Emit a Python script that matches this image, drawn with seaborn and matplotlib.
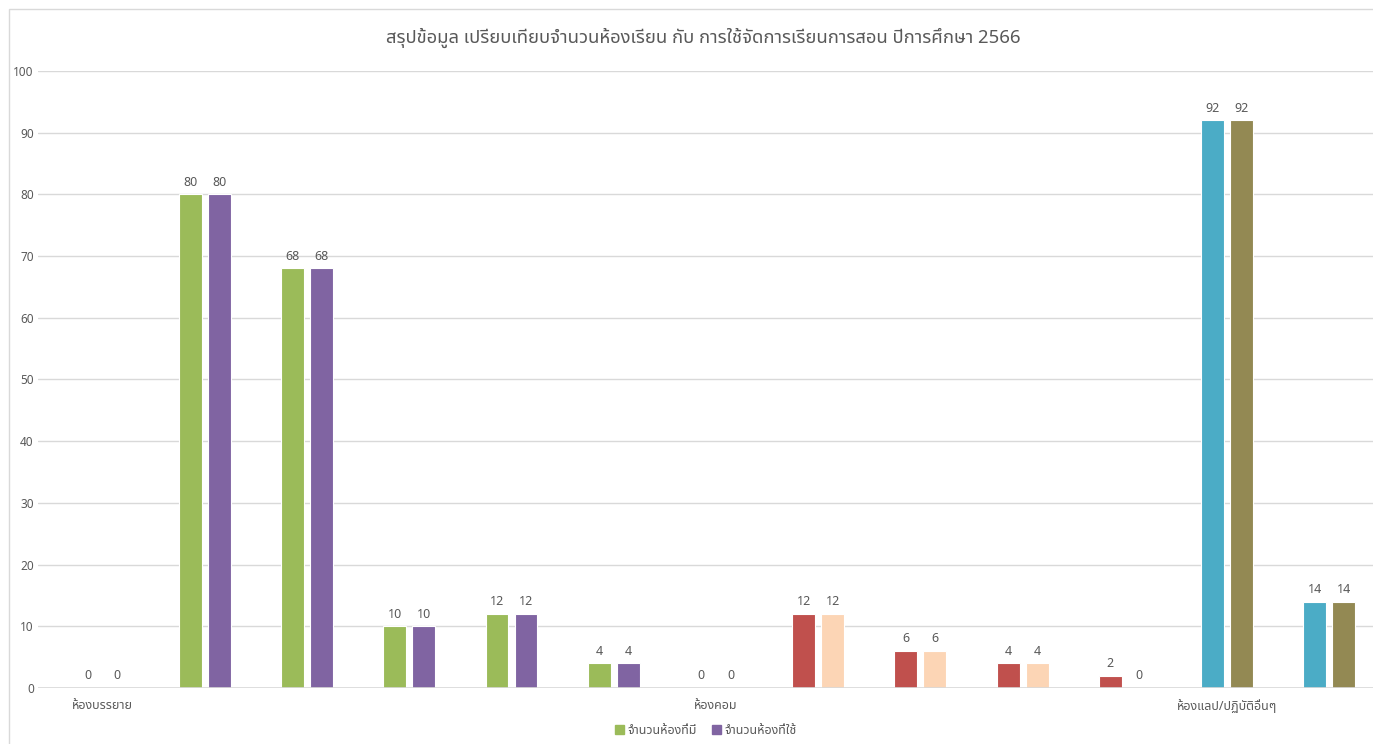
import matplotlib
matplotlib.use("Agg")
import numpy as np
import pandas as pd
import matplotlib.pyplot as plt
import seaborn as sns
from matplotlib.patches import Patch

# data
categories = ["ห้องบรรยาย", "c1", "c2", "c3", "c4", "c5", "ห้องคอม",
              "c7", "c8", "c9", "c10", "ห้องแลป/ปฏิบัติอื่นๆ", "c12"]
tick_labels = ["ห้องบรรยาย", "", "", "", "", "", "ห้องคอม",
               "", "", "", "", "ห้องแลป/ปฏิบัติอื่นๆ", ""]
have = [0, 80, 68, 10, 12, 4, 0, 12, 6, 4, 2, 92, 14]
used = [0, 80, 68, 10, 12, 4, 0, 12, 6, 4, 0, 92, 14]
series = ["จำนวนห้องที่มี", "จำนวนห้องที่ใช้"]
group = ["บรรยาย"] * 6 + ["คอม"] * 5 + ["แลป"] * 2

# colours per group (first bar, second bar)
group_colors = {
    "บรรยาย": ("#9BBB59", "#8064A2"),
    "คอม": ("#C0504D", "#FCD5B5"),
    "แลป": ("#4BACC6", "#938953"),
}

df = pd.DataFrame({
    "cat": categories * 2,
    "value": have + used,
    "series": [series[0]] * len(have) + [series[1]] * len(used),
})

sns.set_style("white")
plt.rcParams["font.family"] = ["Noto Sans Thai", "DejaVu Sans"]

fig = plt.figure(figsize=(13.73, 7.44), dpi=100)
ax = fig.add_axes([38 / 1373, 1 - 688 / 744, (1373 - 38) / 1373, (688 - 71) / 744])

sns.barplot(data=df, x="cat", y="value", hue="series", order=categories,
            hue_order=series, palette=["#9BBB59", "#8064A2"],
            width=0.568, gap=0.21, ax=ax, legend=False)

for k, cont in enumerate(ax.containers):
    for bar, g in zip(cont.patches, group):
        bar.set_facecolor(group_colors[g][k])
        bar.set_edgecolor("white")
        bar.set_linewidth(0.8)
    ax.bar_label(cont, fmt="%g", padding=4, fontsize=9, color="#595959")

ax.set_ylim(0, 100)
ax.set_yticks(range(0, 101, 10))
ax.set_xlim(-0.632, 12.428)
ax.yaxis.grid(True, color="#D9D9D9", linewidth=1)
ax.set_axisbelow(True)
for s in ax.spines.values():
    s.set_visible(False)
ax.axhline(0, color="#D9D9D9", linewidth=1.2)
ax.set_xticks(range(len(categories)))
ax.set_xticklabels(tick_labels, fontsize=9, color="#595959")
ax.tick_params(axis="x", length=0, pad=8)
ax.tick_params(axis="y", length=0, pad=3, labelsize=8.5, labelcolor="#595959")
ax.set_xlabel("")
ax.set_ylabel("")

fig.text(703 / 1373, 1 - 38 / 744,
         "สรุปข้อมูล เปรียบเทียบจำนวนห้องเรียน กับ การใช้จัดการเรียนการสอน ปีการศึกษา 2566",
         ha="center", va="center", fontsize=13.3, color="#595959")

handles = [Patch(color="#9BBB59"), Patch(color="#8064A2")]
fig.legend(handles, series, loc="center", bbox_to_anchor=(706 / 1373, 1 - 730 / 744),
           ncol=2, frameon=False, fontsize=9, labelcolor="#595959",
           handlelength=0.7, handleheight=0.7, handletextpad=0.3, columnspacing=1.2)

# light chart-area border
fig.add_artist(plt.Rectangle((9 / 1373, -0.01), 1.1, 1 - 9 / 744 + 0.01,
                             transform=fig.transFigure, fill=False,
                             edgecolor="#D9D9D9", linewidth=1))

fig.savefig("out.png", dpi=100)
